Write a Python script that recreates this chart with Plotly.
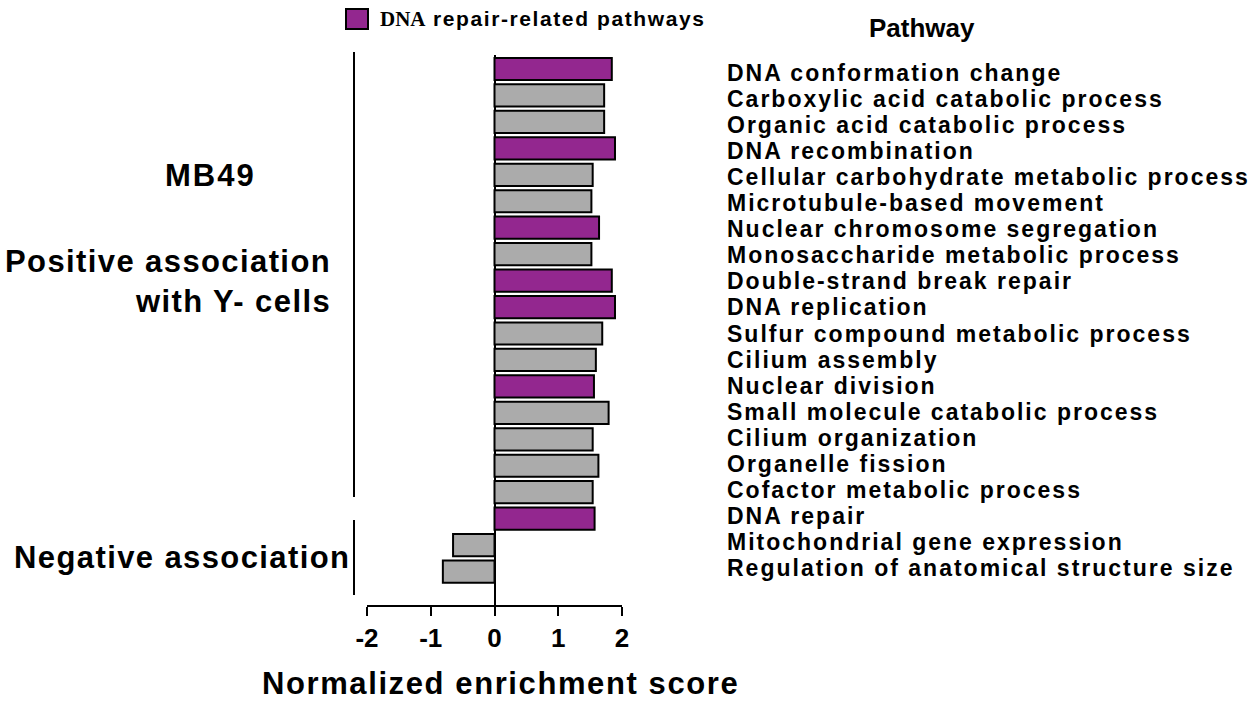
import plotly.graph_objects as go

pathways = [
    "DNA conformation change",
    "Carboxylic acid catabolic process",
    "Organic acid catabolic process",
    "DNA recombination",
    "Cellular carbohydrate metabolic process",
    "Microtubule-based movement",
    "Nuclear chromosome segregation",
    "Monosaccharide metabolic process",
    "Double-strand break repair",
    "DNA replication",
    "Sulfur compound metabolic process",
    "Cilium assembly",
    "Nuclear division",
    "Small molecule catabolic process",
    "Cilium organization",
    "Organelle fission",
    "Cofactor metabolic process",
    "DNA repair",
    "Mitochondrial gene expression",
    "Regulation of anatomical structure size",
]
nes = [1.84, 1.72, 1.72, 1.89, 1.54, 1.52, 1.64, 1.52, 1.84, 1.89,
       1.69, 1.59, 1.56, 1.79, 1.54, 1.63, 1.54, 1.57, -0.65, -0.81]
dna_related = [True, False, False, True, False, False, True, False, True, True,
               False, False, True, False, False, False, False, True, False, False]
x_ticks = [-2, -1, 0, 1, 2]

PURPLE = "#93278F"
GRAY = "#ABABAB"

W, H = 1260, 703
L, R, T, B = 367, 622, 55, 605

def px2x(px):
    return (px - L) / (R - L)

def px2y(py):
    return (B - py) / (B - T)

def spaced(txt, ls):
    return f'<span style="letter-spacing:{ls}px"><b>{txt}</b></span>'

colors = [PURPLE if d else GRAY for d in dna_related]
pitch = 26.45
top_c = 69
y_top = -(top_c - T) / pitch
y_bot = (B - top_c) / pitch

fig = go.Figure()
fig.add_trace(go.Bar(
    x=nes, y=pathways, orientation="h",
    marker=dict(color=colors, line=dict(color="black", width=2)),
    width=0.84, showlegend=False,
))

FONT = "Liberation Sans, Arial, sans-serif"

fig.update_layout(
    width=W, height=H,
    margin=dict(l=L, r=W - R, t=T, b=H - B, pad=0),
    plot_bgcolor="white", paper_bgcolor="white",
    font=dict(family=FONT, color="black"),
    xaxis=dict(
        range=[-2, 2], tickvals=x_ticks, ticktext=[str(v) for v in x_ticks],
        showgrid=False, zeroline=True, zerolinecolor="black", zerolinewidth=2,
        showline=True, linecolor="black", linewidth=2,
        ticks="outside", ticklen=9, tickwidth=2, tickcolor="black",
        tickfont=dict(size=26, family=FONT, weight="bold"),
    ),
    yaxis=dict(
        type="category", categoryorder="array", categoryarray=pathways,
        range=[y_bot, y_top], showticklabels=False, showgrid=False,
        zeroline=False, showline=False, ticks="",
    ),
)

annots = []
label_top = 73
label_pitch = 26.05
for i, p in enumerate(pathways):
    annots.append(dict(
        x=px2x(725), xref="paper", y=px2y(label_top + label_pitch * i), yref="paper",
        text=spaced(p, 2.0), showarrow=False,
        xanchor="left", yanchor="middle",
        font=dict(size=23, family=FONT),
    ))

annots += [
    dict(x=px2x(922), y=px2y(28), xref="paper", yref="paper", text="<b>Pathway</b>",
         showarrow=False, xanchor="center", yanchor="middle", font=dict(size=26)),
    dict(x=px2x(210), y=px2y(175), xref="paper", yref="paper", text=spaced("MB49", 2),
         showarrow=False, xanchor="center", yanchor="middle", font=dict(size=31)),
    dict(x=px2x(333), y=px2y(281), xref="paper", yref="paper",
         text=spaced("Positive association", 1.4) + "<br>" + spaced("with Y- cells", 1.4),
         align="right",
         showarrow=False, xanchor="right", yanchor="middle", font=dict(size=31)),
    dict(x=px2x(352), y=px2y(557), xref="paper", yref="paper",
         text=spaced("Negative association", 1.4),
         showarrow=False, xanchor="right", yanchor="middle", font=dict(size=31)),
    dict(x=px2x(500), y=px2y(683), xref="paper", yref="paper",
         text=spaced("Normalized enrichment score", 1.6),
         showarrow=False, xanchor="center", yanchor="middle", font=dict(size=31)),
    dict(x=px2x(378), y=px2y(19), xref="paper", yref="paper",
         text="<span style=\"font-family:'Liberation Serif','Times New Roman',serif\"><b>DNA</b></span>"
              + spaced(" repair-related pathways", 1.6),
         showarrow=False, xanchor="left", yanchor="middle", font=dict(size=21)),
]

shapes = [
    dict(type="rect", xref="paper", yref="paper",
         x0=px2x(346), x1=px2x(368), y0=px2y(29), y1=px2y(9),
         fillcolor=PURPLE, line=dict(color="black", width=2)),
    dict(type="line", xref="paper", yref="paper",
         x0=px2x(354), x1=px2x(354), y0=px2y(52), y1=px2y(497),
         line=dict(color="black", width=2)),
    dict(type="line", xref="paper", yref="paper",
         x0=px2x(354), x1=px2x(354), y0=px2y(520), y1=px2y(595),
         line=dict(color="black", width=2)),
]

fig.update_layout(annotations=annots, shapes=shapes)
fig.write_html("out.html", config={"displayModeBar": False},
               post_script="document.body.style.margin='0';")
